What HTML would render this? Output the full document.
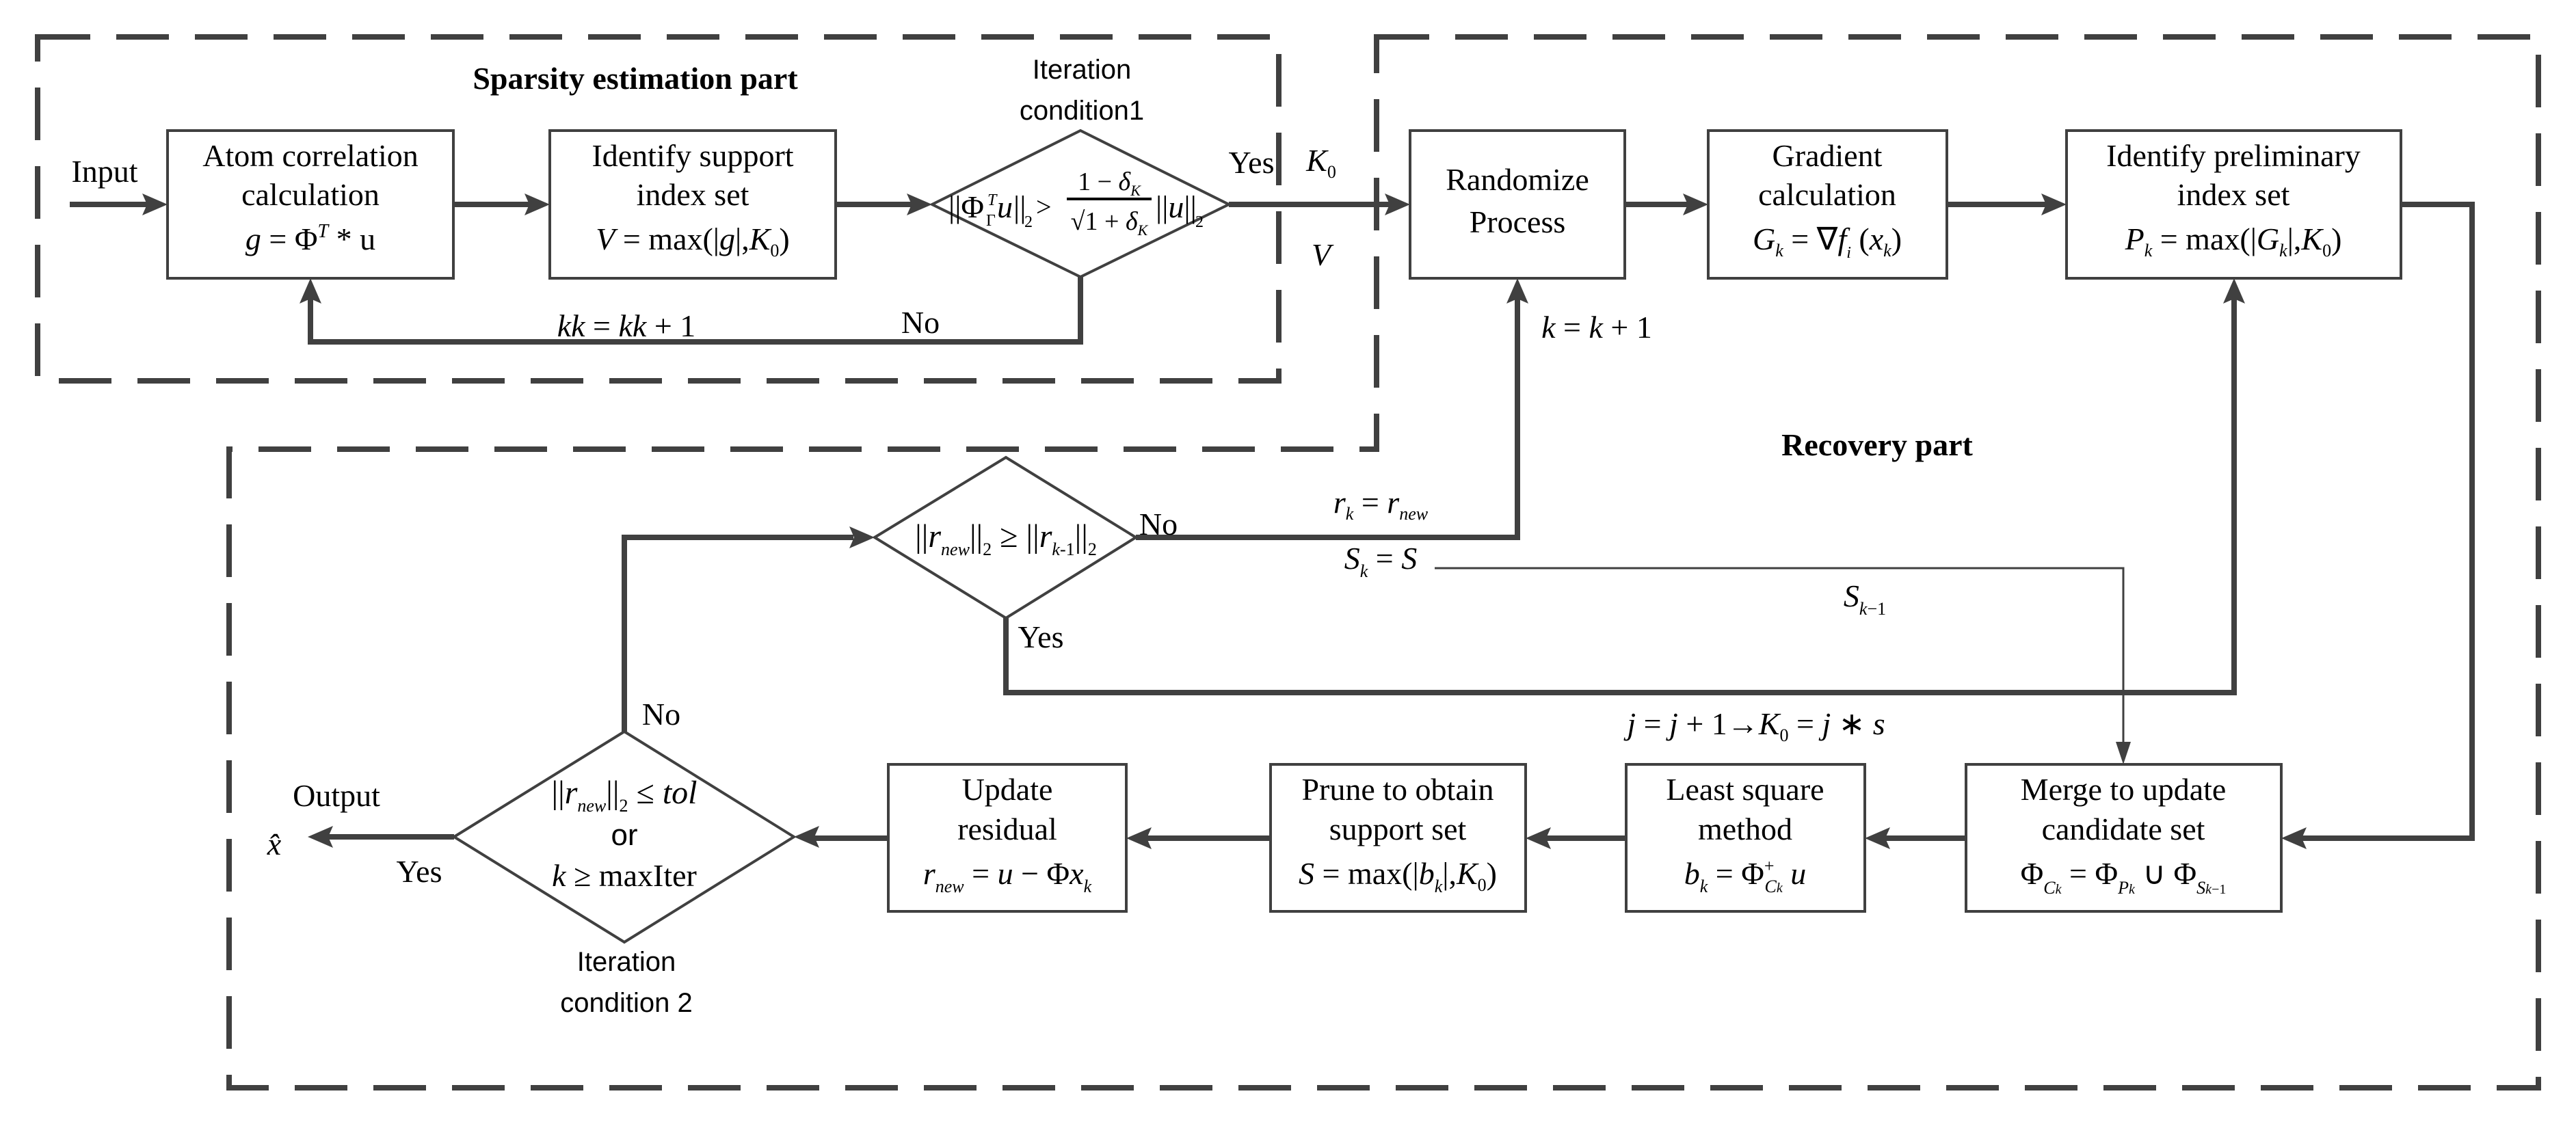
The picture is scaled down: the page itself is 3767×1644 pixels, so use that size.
<!DOCTYPE html>
<html><head><meta charset="utf-8"><style>
html,body{margin:0;padding:0;background:#fff;}
svg{display:block;}
text{font-family:"Liberation Serif",serif;fill:#000;}
.t{font-size:46px;text-anchor:middle;}
.i{font-style:italic;}
.s{font-family:"Liberation Sans",sans-serif;}
</style></head><body>
<svg width="3767" height="1644" viewBox="0 0 3767 1644" xmlns="http://www.w3.org/2000/svg">
<g fill="none" stroke="#404040" stroke-width="8" stroke-dasharray="77 38">
 <path d="M55 54 H1870 V557 H55 Z"/>
 <path d="M2013 54 H3712 V1591 H335 V657 H2013 Z"/>
</g>
<g fill="#fff" stroke="#404040" stroke-width="4">
 <rect x="245" y="191" width="418" height="216"/>
 <rect x="804" y="191" width="418" height="216"/>
 <polygon points="1363,299 1580,191 1797,299 1580,405"/>
 <rect x="2062" y="191" width="314" height="216"/>
 <rect x="2498" y="191" width="349" height="216"/>
 <rect x="3022" y="191" width="489" height="216"/>
 <polygon points="1279,786 1471,669 1661,786 1471,904"/>
 <polygon points="664,1224 913,1070 1161,1224 913,1378"/>
 <rect x="1299" y="1118" width="348" height="215"/>
 <rect x="1858" y="1118" width="373" height="215"/>
 <rect x="2378" y="1118" width="349" height="215"/>
 <rect x="2875" y="1118" width="461" height="215"/>
</g>
<g fill="none" stroke="#404040" stroke-width="8">
 <path d="M102 299 H215"/><path d="M663 299 H774"/><path d="M1222 299 H1335"/>
 <path d="M1797 299 H2032"/><path d="M2376 299 H2468"/><path d="M2847 299 H2992"/>
 <path d="M1580 405 V500 H454 V437"/>
 <path d="M1661 786 H2219 V437"/>
 <path d="M1471 904 V1013 H3267 V437"/>
 <path d="M3511 299 H3615 V1226 H3366"/>
 <path d="M2875 1226 H2757"/><path d="M2378 1226 H2261"/><path d="M1858 1226 H1677"/>
 <path d="M1299 1226 H1191"/><path d="M664 1224 H480"/>
 <path d="M913 1070 V786 H1248"/>
</g>
<path d="M2098 831 H3105 V1095" fill="none" stroke="#404040" stroke-width="3"/>
<g fill="#404040">
 <polygon points="245,299 208,283 215,299 208,315"/>
 <polygon points="804,299 767,283 774,299 767,315"/>
 <polygon points="1363,299 1326,283 1333,299 1326,315"/>
 <polygon points="2062,299 2025,283 2032,299 2025,315"/>
 <polygon points="2498,299 2461,283 2468,299 2461,315"/>
 <polygon points="3022,299 2985,283 2992,299 2985,315"/>
 <polygon points="454,407 438,444 454,437 470,444"/>
 <polygon points="2219,407 2203,444 2219,437 2235,444"/>
 <polygon points="3267,407 3251,444 3267,437 3283,444"/>
 <polygon points="3336,1226 3373,1210 3366,1226 3373,1242"/>
 <polygon points="2727,1226 2764,1210 2757,1226 2764,1242"/>
 <polygon points="2231,1226 2268,1210 2261,1226 2268,1242"/>
 <polygon points="1647,1226 1684,1210 1677,1226 1684,1242"/>
 <polygon points="1161,1224 1198,1208 1191,1224 1198,1240"/>
 <polygon points="450,1224 487,1208 480,1224 487,1240"/>
 <polygon points="1279,786 1242,770 1249,786 1242,802"/>
 <polygon points="3105,1118 3094,1085 3116,1085"/>
</g>
<text x="929" y="130" class="t" font-weight="bold">Sparsity estimation part</text>
<text x="1582" y="115" class="t s" style="font-size:40px">Iteration</text>
<text x="1582" y="175" class="t s" style="font-size:40px">condition1</text>
<text x="153" y="266" class="t">Input</text>
<text x="454" y="243" class="t">Atom correlation</text>
<text x="454" y="300" class="t">calculation</text>
<text x="454" y="365" class="t"><tspan class="i">g</tspan> = Φ<tspan dy="-18" font-size="28" class="i">T</tspan><tspan dy="18"> * u</tspan></text>
<text x="1013" y="243" class="t">Identify support</text>
<text x="1013" y="300" class="t">index set</text>
<text x="1013" y="365" class="t"><tspan class="i">V</tspan> = max(|<tspan class="i">g</tspan>|,<tspan class="i">K</tspan><tspan dy="10" font-size="26">0</tspan><tspan dy="-10">)</tspan></text>
<!-- diamond 1 formula -->
<text x="1387" y="318" font-size="46">||Φ</text>
<text x="1444" y="300" font-size="24" class="i">T</text>
<text x="1442" y="330" font-size="24">Γ</text>
<text x="1458" y="318" font-size="46" class="i">u</text>
<text x="1482" y="318" font-size="46">||</text>
<text x="1498" y="332" font-size="24">2</text>
<text x="1515" y="316" font-size="40">&gt;</text>
<line x1="1560" y1="291" x2="1684" y2="291" stroke="#000" stroke-width="4"/>
<text x="1622" y="278" class="t" style="font-size:38px">1 − <tspan class="i">δ</tspan><tspan dy="8" font-size="22" class="i">K</tspan></text>
<text x="1622" y="336" class="t" style="font-size:38px">√1 + <tspan class="i">δ</tspan><tspan dy="8" font-size="22" class="i">K</tspan></text>
<text x="1690" y="318" font-size="46">||<tspan class="i">u</tspan>||</text>
<text x="1748" y="332" font-size="24">2</text>
<text x="1830" y="253" class="t">Yes</text>
<text x="1932" y="250" class="t i">K<tspan dy="10" font-size="26" font-style="normal">0</tspan></text>
<text x="1932" y="388" class="t i">V</text>
<text x="916" y="492" class="t"><tspan class="i">kk</tspan> = <tspan class="i">kk</tspan> + 1</text>
<text x="1346" y="487" class="t">No</text>
<text x="2219" y="278" class="t">Randomize</text>
<text x="2219" y="340" class="t">Process</text>
<text x="2672" y="243" class="t">Gradient</text>
<text x="2672" y="300" class="t">calculation</text>
<text x="2672" y="365" class="t"><tspan class="i">G</tspan><tspan dy="10" font-size="26" class="i">k</tspan><tspan dy="-10"> = ∇</tspan><tspan class="i">f</tspan><tspan dy="12" font-size="24" class="i">i</tspan><tspan dy="-12"> (</tspan><tspan class="i">x</tspan><tspan dy="10" font-size="26" class="i">k</tspan><tspan dy="-10">)</tspan></text>
<text x="3266" y="243" class="t">Identify preliminary</text>
<text x="3266" y="300" class="t">index set</text>
<text x="3266" y="365" class="t"><tspan class="i">P</tspan><tspan dy="10" font-size="26" class="i">k</tspan><tspan dy="-10"> = max(|</tspan><tspan class="i">G</tspan><tspan dy="10" font-size="26" class="i">k</tspan><tspan dy="-10">|,</tspan><tspan class="i">K</tspan><tspan dy="10" font-size="26">0</tspan><tspan dy="-10">)</tspan></text>
<text x="2335" y="494" class="t"><tspan class="i">k</tspan> = <tspan class="i">k</tspan> + 1</text>
<text x="2745" y="666" class="t" font-weight="bold">Recovery part</text>
<text x="2019" y="750" class="t"><tspan class="i">r</tspan><tspan dy="10" font-size="26" class="i">k</tspan><tspan dy="-10"> = </tspan><tspan class="i">r</tspan><tspan dy="10" font-size="26" class="i">new</tspan></text>
<text x="2019" y="832" class="t"><tspan class="i">S</tspan><tspan dy="12" font-size="26" class="i">k</tspan><tspan dy="-12"> = </tspan><tspan class="i">S</tspan></text>
<text x="2727" y="887" class="t"><tspan class="i">S</tspan><tspan dy="12" font-size="26" class="i">k</tspan><tspan dy="0" font-size="26">−1</tspan></text>
<text x="1471" y="800" class="t" style="font-size:48px">||<tspan class="i">r</tspan><tspan dy="12" font-size="26" class="i">new</tspan><tspan dy="-12">||</tspan><tspan dy="12" font-size="26">2</tspan><tspan dy="-12"> ≥ ||</tspan><tspan class="i">r</tspan><tspan dy="12" font-size="26" class="i">k</tspan><tspan font-size="26">-1</tspan><tspan dy="-12">||</tspan><tspan dy="12" font-size="26">2</tspan></text>
<text x="1694" y="782" class="t">No</text>
<text x="1522" y="947" class="t">Yes</text>
<text x="2568" y="1074" class="t"><tspan class="i">j</tspan> = <tspan class="i">j</tspan> + 1→<tspan class="i">K</tspan><tspan dy="10" font-size="26">0</tspan><tspan dy="-10"> = </tspan><tspan class="i">j</tspan> ∗ <tspan class="i">s</tspan></text>
<text x="967" y="1060" class="t">No</text>
<text x="913" y="1175" class="t" style="font-size:48px">||<tspan class="i">r</tspan><tspan dy="12" font-size="26" class="i">new</tspan><tspan dy="-12">||</tspan><tspan dy="12" font-size="26">2</tspan><tspan dy="-12"> ≤ </tspan><tspan class="i">tol</tspan></text>
<text x="913" y="1236" class="t s" style="font-size:44px">or</text>
<text x="913" y="1296" class="t" style="font-size:46px"><tspan class="i">k</tspan> ≥ maxIter</text>
<text x="916" y="1420" class="t s" style="font-size:40px">Iteration</text>
<text x="916" y="1480" class="t s" style="font-size:40px">condition 2</text>
<text x="492" y="1179" class="t">Output</text>
<text x="401" y="1250" class="t i">x̂</text>
<text x="613" y="1290" class="t">Yes</text>
<text x="1473" y="1170" class="t">Update</text>
<text x="1473" y="1228" class="t">residual</text>
<text x="1473" y="1293" class="t"><tspan class="i">r</tspan><tspan dy="12" font-size="26" class="i">new</tspan><tspan dy="-12"> = </tspan><tspan class="i">u</tspan> − Φ<tspan class="i">x</tspan><tspan dy="12" font-size="26" class="i">k</tspan></text>
<text x="2044" y="1170" class="t">Prune to obtain</text>
<text x="2044" y="1228" class="t">support set</text>
<text x="2044" y="1293" class="t"><tspan class="i">S</tspan> = max(|<tspan class="i">b</tspan><tspan dy="12" font-size="26" class="i">k</tspan><tspan dy="-12">|,</tspan><tspan class="i">K</tspan><tspan dy="10" font-size="26">0</tspan><tspan dy="-10">)</tspan></text>
<text x="2552" y="1170" class="t">Least square</text>
<text x="2552" y="1228" class="t">method</text>
<text x="2552" y="1293" class="t"><tspan class="i">b</tspan><tspan dy="12" font-size="26" class="i">k</tspan><tspan dy="-12"> = Φ</tspan><tspan dy="-18" font-size="26">+</tspan><tspan dy="30" dx="-14" font-size="26" class="i">C</tspan><tspan font-size="20" class="i">k</tspan><tspan dy="-12"> </tspan><tspan class="i">u</tspan></text>
<text x="3105" y="1170" class="t">Merge to update</text>
<text x="3105" y="1228" class="t">candidate set</text>
<text x="3105" y="1293" class="t">Φ<tspan dy="14" font-size="26" class="i">C</tspan><tspan font-size="20" class="i">k</tspan><tspan dy="-14"> = Φ</tspan><tspan dy="14" font-size="26" class="i">P</tspan><tspan font-size="20" class="i">k</tspan><tspan dy="-14"> ∪ Φ</tspan><tspan dy="14" font-size="26" class="i">S</tspan><tspan font-size="20" class="i">k</tspan><tspan font-size="20">−1</tspan></text>
</svg>
</body></html>
